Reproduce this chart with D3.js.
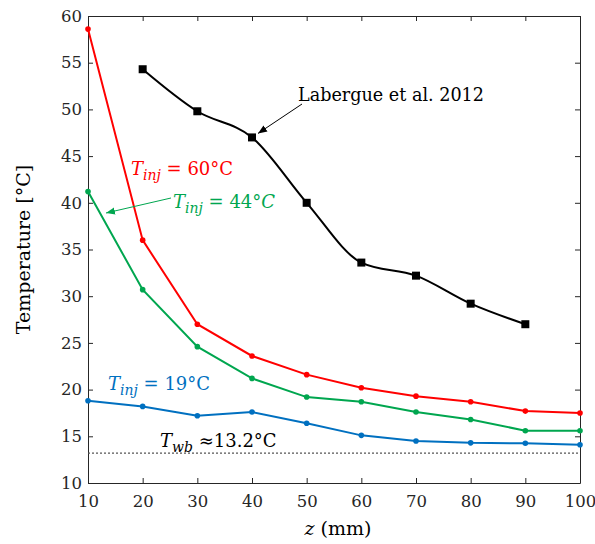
<!DOCTYPE html>
<html>
<head>
<meta charset="utf-8">
<script src="https://cdn.jsdelivr.net/npm/d3@7"></script>
<style>
  body { margin: 0; background: #fff; }
  text { font-family: "DejaVu Serif", serif; }
</style>
</head>
<body>
<svg id="plot"></svg>
<script>
// data
const zVals = [10, 20, 30, 40, 50, 60, 70, 80, 90, 100];
const t60 = [58.6, 36.0, 27.0, 23.6, 21.6, 20.2, 19.3, 18.7, 17.7, 17.5];
const t44 = [41.2, 30.7, 24.6, 21.2, 19.2, 18.7, 17.6, 16.8, 15.6, 15.6];
const t19 = [18.8, 18.2, 17.2, 17.6, 16.4, 15.1, 14.5, 14.3, 14.25, 14.1];
const labZ = [20, 30, 40, 50, 60, 70, 80, 90];
const labT = [54.3, 49.8, 47.0, 40.0, 33.6, 32.2, 29.2, 27.0];
const twb = 13.2;
const xTicks = [10, 20, 30, 40, 50, 60, 70, 80, 90, 100];
const yTicks = [10, 15, 20, 25, 30, 35, 40, 45, 50, 55, 60];

const W = 595, H = 544;
const margin = { top: 16, right: 15, bottom: 61, left: 88 };
const width = W - margin.left - margin.right;
const height = H - margin.top - margin.bottom;
const axisColor = "#262626";

const svgRoot = d3.select("#plot").attr("width", W).attr("height", H);
svgRoot.append("defs").selectAll("marker")
  .data([["arrK", "#000"], ["arrG", "#00a64f"]])
  .enter().append("marker")
  .attr("id", d => d[0])
  .attr("viewBox", "0 0 10 10").attr("refX", 10).attr("refY", 5)
  .attr("markerWidth", 9).attr("markerHeight", 9)
  .attr("markerUnits", "userSpaceOnUse")
  .attr("orient", "auto")
  .append("path").attr("d", "M0,1 L10,5 L0,9 Z").attr("fill", d => d[1]);

const svg = svgRoot.append("g")
  .attr("transform", "translate(" + margin.left + "," + margin.top + ")");

const x = d3.scaleLinear().domain([10, 100]).range([0, width]);
const y = d3.scaleLinear().domain([10, 60]).range([height, 0]);

// axes (box with inward ticks)
function styleAxis(g) {
  g.select(".domain").attr("stroke", axisColor).attr("stroke-width", 1);
  g.selectAll(".tick line").attr("stroke", axisColor);
  g.selectAll(".tick text").attr("fill", axisColor)
    .style("font-family", "DejaVu Serif, serif").style("font-size", "16.5px");
}
svg.append("g").attr("transform", "translate(0," + height + ")")
  .call(d3.axisBottom(x).tickValues(xTicks).tickSizeInner(-5).tickSizeOuter(0).tickPadding(12))
  .call(styleAxis);
svg.append("g")
  .call(d3.axisLeft(y).tickValues(yTicks).tickSizeInner(-5).tickSizeOuter(0).tickPadding(6))
  .call(styleAxis);
svg.append("g")
  .call(d3.axisTop(x).tickValues(xTicks).tickSizeInner(-5).tickSizeOuter(0).tickFormat(""))
  .call(styleAxis);
svg.append("g").attr("transform", "translate(" + width + ",0)")
  .call(d3.axisRight(y).tickValues(yTicks).tickSizeInner(-5).tickSizeOuter(0).tickFormat(""))
  .call(styleAxis);

// wet bulb dotted line
svg.append("line")
  .attr("x1", 0).attr("x2", width)
  .attr("y1", y(twb)).attr("y2", y(twb))
  .attr("stroke", "#555").attr("stroke-width", 1.3)
  .attr("stroke-dasharray", "2,2");

// model series
const series = [
  { vals: t60, color: "#ff0000" },
  { vals: t44, color: "#00a64f" },
  { vals: t19, color: "#0070c0" }
];
const line = d3.line().x(d => x(d[0])).y(d => y(d[1]));
series.forEach(s => {
  const pts = zVals.map((z, i) => [z, s.vals[i]]);
  svg.append("path").datum(pts)
    .attr("d", line).attr("fill", "none")
    .attr("stroke", s.color).attr("stroke-width", 2);
  svg.selectAll(null).data(pts).enter().append("circle")
    .attr("cx", d => x(d[0])).attr("cy", d => y(d[1]))
    .attr("r", 2.8).attr("fill", s.color);
});

// Labergue data
const labPts = labZ.map((z, i) => [z, labT[i]]);
svg.append("path").datum(labPts)
  .attr("d", d3.line().x(d => x(d[0])).y(d => y(d[1])).curve(d3.curveMonotoneX))
  .attr("fill", "none").attr("stroke", "#000").attr("stroke-width", 2);
svg.selectAll(".sq").data(labPts).enter().append("rect")
  .attr("class", "sq")
  .attr("x", d => x(d[0]) - 4).attr("y", d => y(d[1]) - 4)
  .attr("width", 8).attr("height", 8).attr("fill", "#000");

// annotations
function mathLabel(px, py, color, sub, rest, italicC) {
  const t = svg.append("text").attr("x", px).attr("y", py)
    .attr("fill", color).style("font-size", "18px");
  t.append("tspan").style("font-style", "italic").text("T");
  t.append("tspan").style("font-style", "italic").style("font-size", "14px")
    .attr("dy", 5).text(sub);
  t.append("tspan").attr("dy", -5).text(rest);
  if (italicC) t.append("tspan").style("font-style", "italic").text("C");
  return t;
}
mathLabel(131 - margin.left, 175 - margin.top, "#ff0000", "inj", " = 60°C", false);
mathLabel(173 - margin.left, 208 - margin.top, "#00a64f", "inj", " = 44°", true);
mathLabel(108 - margin.left, 390 - margin.top, "#0070c0", "inj", " = 19°C", false);
mathLabel(160 - margin.left, 447 - margin.top, "#000", "wb", " ≈13.2°C", false);

svg.append("text").attr("x", 298 - margin.left).attr("y", 101 - margin.top)
  .attr("fill", "#000").style("font-size", "17.6px").text("Labergue et al. 2012");

// arrows
svg.append("line")
  .attr("x1", 302 - margin.left).attr("y1", 104 - margin.top)
  .attr("x2", x(40) + 6).attr("y2", y(47) - 4)
  .attr("stroke", "#000").attr("stroke-width", 1).attr("marker-end", "url(#arrK)");
svg.append("line")
  .attr("x1", 171 - margin.left).attr("y1", 198 - margin.top)
  .attr("x2", 106 - margin.left).attr("y2", 213 - margin.top)
  .attr("stroke", "#00a64f").attr("stroke-width", 1).attr("marker-end", "url(#arrG)");

// axis labels
svg.append("text")
  .attr("transform", "translate(" + (-58) + "," + (height / 2) + ") rotate(-90)")
  .attr("text-anchor", "middle").attr("fill", "#000")
  .style("font-size", "19px").text("Temperature [°C]");
const xl = svg.append("text")
  .attr("x", width / 2 + 4).attr("y", height + 52)
  .attr("text-anchor", "middle").attr("fill", "#000").style("font-size", "19px");
xl.append("tspan").style("font-style", "italic").text("z");
xl.append("tspan").text(" (mm)");
</script>
</body>
</html>
